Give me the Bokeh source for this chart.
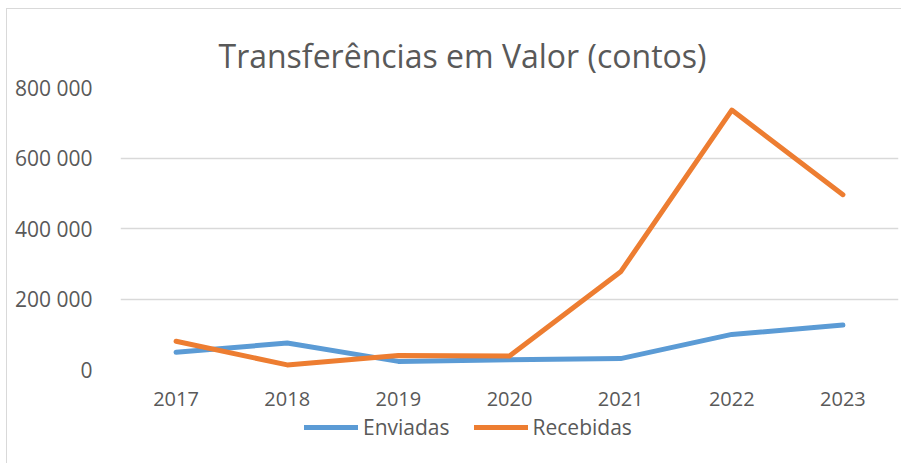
from bokeh.plotting import figure
from bokeh.layouts import column
from bokeh.models import FactorRange, Range1d, FixedTicker, Legend, LegendItem, Title
from bokeh.embed import file_html
from bokeh.resources import INLINE

years = ["2017", "2018", "2019", "2020", "2021", "2022", "2023"]
enviadas = [49000, 75000, 23000, 27500, 31000, 99500, 126000]
recebidas = [80000, 13000, 40000, 38000, 277000, 736000, 496000]
y_ticks = [0, 200000, 400000, 600000, 800000]
y_tick_labels = ["0", "200 000", "400 000", "600 000", "800 000"]
title_text = "Transferências em Valor (contos)"
series_names = ["Enviadas", "Recebidas"]
colors = ["#5B9BD5", "#ED7D31"]

FONT = "Open Sans"
GREY = "#595959"

p = figure(width=895, height=404, x_range=FactorRange(*years),
           y_range=Range1d(0, 800000), output_backend="svg",
           toolbar_location=None, min_border_left=113, min_border_right=4,
           min_border_top=78, min_border_bottom=44)
p.outline_line_color = None
p.background_fill_color = "white"
p.border_fill_color = "white"

t = Title(text=title_text, align="left", text_font=FONT, text_font_size="32px",
          text_font_style="normal", text_color=GREY, standoff=21, offset=98)
p.add_layout(t, "above")

r1 = p.line(years, enviadas, line_color=colors[0], line_width=5, line_cap="round", line_join="round")
r2 = p.line(years, recebidas, line_color=colors[1], line_width=5, line_cap="round", line_join="round")

p.yaxis.ticker = FixedTicker(ticks=y_ticks)
p.yaxis.major_label_overrides = {v: s for v, s in zip(y_ticks, y_tick_labels)}
p.yaxis.axis_line_color = None
p.yaxis.major_tick_line_color = None
p.yaxis.minor_tick_line_color = None
p.yaxis.major_label_standoff = 22
p.yaxis.major_label_text_font = FONT
p.yaxis.major_label_text_font_size = "21px"
p.yaxis.major_label_text_color = GREY

p.xaxis.axis_line_color = None
p.xaxis.major_tick_line_color = None
p.xaxis.minor_tick_line_color = None
p.xaxis.major_label_standoff = 16
p.xaxis.major_label_text_font = FONT
p.xaxis.major_label_text_font_size = "20px"
p.xaxis.major_label_text_color = GREY

p.xgrid.grid_line_color = None
p.ygrid.grid_line_color = "#D9D9D9"
p.ygrid.grid_line_width = 1.3

# legend strip below the chart
nan = float("nan")
p2 = figure(width=895, height=50, x_range=Range1d(0, 1), y_range=Range1d(0, 1),
            output_backend="svg", toolbar_location=None,
            min_border_left=0, min_border_right=0, min_border_top=0, min_border_bottom=0)
p2.axis.visible = False
p2.grid.visible = False
p2.outline_line_color = None
p2.border_fill_color = "white"
l1 = p2.line(x=[nan], y=[nan], line_color=colors[0], line_width=5, line_cap="round")
l2 = p2.line(x=[nan], y=[nan], line_color=colors[1], line_width=5, line_cap="round")

legend = Legend(items=[LegendItem(label=series_names[0], renderers=[l1]),
                       LegendItem(label=series_names[1], renderers=[l2])],
                orientation="horizontal", location=(184, 22),
                border_line_color=None, background_fill_alpha=0,
                label_text_font=FONT, label_text_font_size="21px",
                label_text_color=GREY, glyph_width=54, glyph_height=20,
                label_standoff=5, spacing=24, padding=0, margin=0)
p2.add_layout(legend)

layout = column(p, p2, spacing=0, margin=(8, 0, 0, 6),
                styles={"border-left": "1px solid #D9D9D9", "border-top": "1px solid #D9D9D9"})
open("out.html", "w").write(file_html(layout, INLINE))
